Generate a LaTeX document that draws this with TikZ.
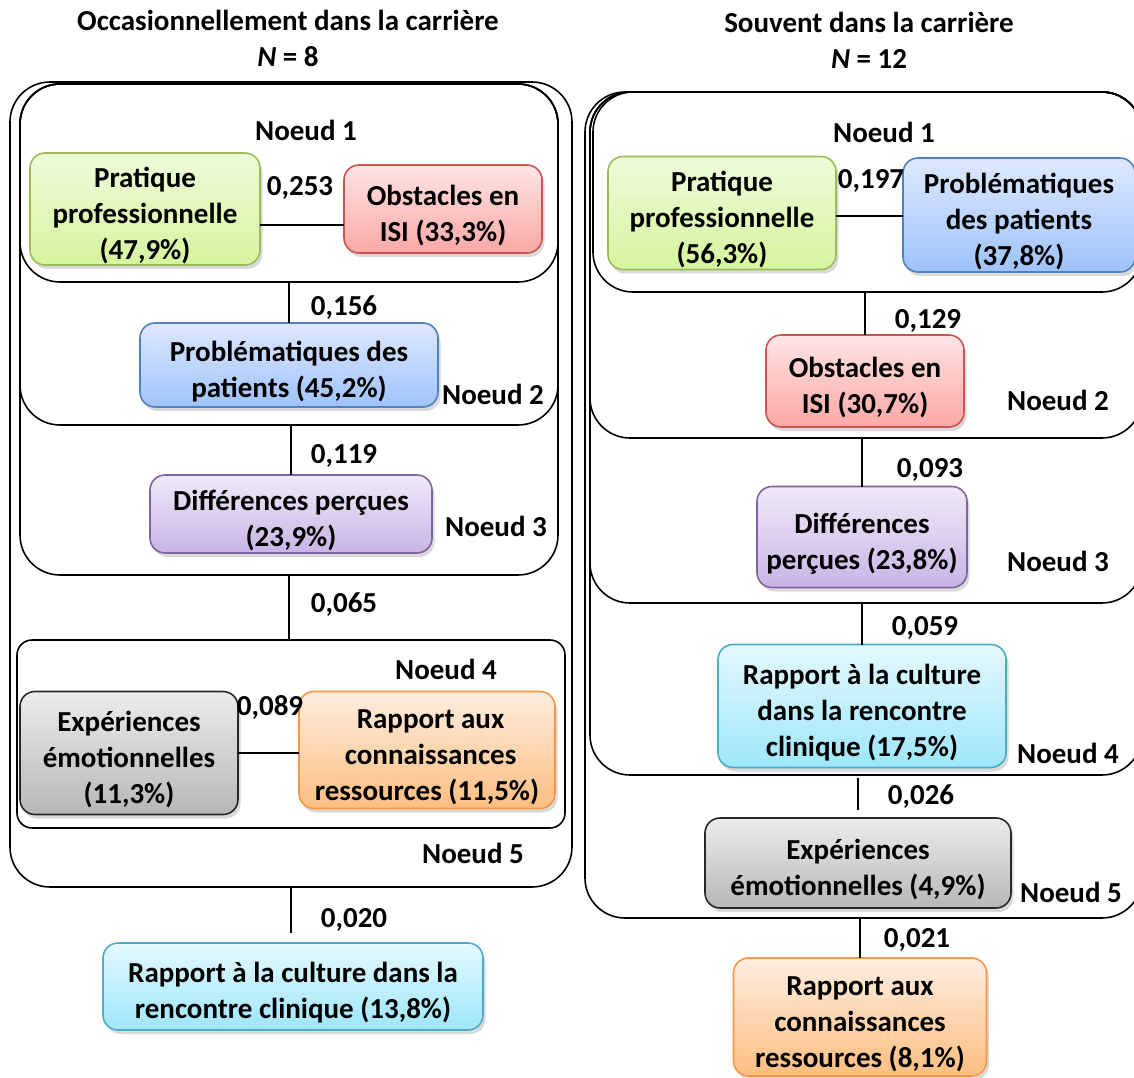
\documentclass[tikz,border=0pt]{standalone}
\usepackage{fontspec}
\setmainfont{Carlito}
\usetikzlibrary{shadows}
\definecolor{vertBord}{RGB}{155,187,89}
\definecolor{vertHaut}{RGB}{238,251,218}
\definecolor{vertBas}{RGB}{214,244,158}
\definecolor{rougeBord}{RGB}{200,85,82}
\definecolor{rougeHaut}{RGB}{255,228,228}
\definecolor{rougeBas}{RGB}{251,168,166}
\definecolor{bleuBord}{RGB}{79,129,189}
\definecolor{bleuHaut}{RGB}{222,232,255}
\definecolor{bleuBas}{RGB}{158,195,250}
\definecolor{violetBord}{RGB}{128,100,162}
\definecolor{violetHaut}{RGB}{240,233,249}
\definecolor{violetBas}{RGB}{200,180,230}
\definecolor{grisBord}{RGB}{40,40,40}
\definecolor{grisHaut}{RGB}{236,236,236}
\definecolor{grisBas}{RGB}{183,183,183}
\definecolor{orangeBord}{RGB}{247,150,70}
\definecolor{orangeHaut}{RGB}{255,238,224}
\definecolor{orangeBas}{RGB}{252,190,128}
\definecolor{cyanBord}{RGB}{75,172,198}
\definecolor{cyanHaut}{RGB}{228,249,255}
\definecolor{cyanBas}{RGB}{158,230,250}
\newlength\unitpx \setlength\unitpx{0.02cm}
\newcommand\decal{\rule{0pt}{19pt}}

\begin{document}
\begin{tikzpicture}[x=0.02cm, y=-0.02cm,
    txt/.style={font=\bfseries\fontsize{16.5}{20.5}\selectfont, align=center},
    grp/.style={draw, line width=0.9pt, rounded corners=0.8cm, inner sep=0pt, outer sep=0pt},
    boite/.style n args={3}{txt, draw=#1, line width=0.9pt, top color=#2, bottom color=#3,
        rounded corners=0.3cm, inner sep=0pt, outer sep=0pt,
        drop shadow={opacity=0.3, shadow xshift=0.05cm, shadow yshift=-0.08cm}},
    lien/.style={line width=1.4pt}]
    \useasboundingbox (0,0) rectangle (1134,1078);
    \clip (0,0) rectangle (1134,1078);

    % Titres
    \node[txt] (titreL) at (288,38) {Occasionnellement dans la carrière\\\textit{N} = 8};
    \node[txt] (titreR) at (869,40) {Souvent dans la carrière\\\textit{N} = 12};

    % Noeuds (gauche)
    \node[grp, minimum width=562\unitpx, minimum height=805\unitpx] (g5L) at (291,484.5) {};
    \node[grp, minimum width=538\unitpx, minimum height=491\unitpx] (g3L) at (289,329.5) {};
    \node[grp, minimum width=538\unitpx, minimum height=341\unitpx] (g2L) at (289,254.5) {};
    \node[grp, minimum width=538\unitpx, minimum height=198\unitpx] (g1L) at (289,183) {};
    \node[grp, rounded corners=0.3cm, minimum width=548\unitpx, minimum height=188\unitpx] (g4L) at (291,734) {};

    % Noeuds (droite)
    \node[grp, minimum width=557\unitpx, minimum height=826\unitpx] (g5R) at (863.5,505) {};
    \node[grp, minimum width=552\unitpx, minimum height=683\unitpx] (g4R) at (866,433.5) {};
    \node[grp, minimum width=552\unitpx, minimum height=511\unitpx] (g3R) at (866,347.5) {};
    \node[grp, minimum width=552\unitpx, minimum height=346\unitpx] (g2R) at (866,265) {};
    \node[grp, minimum width=549\unitpx, minimum height=200\unitpx] (g1R) at (867.5,192) {};

    % Boites (gauche)
    \node[boite={vertBord}{vertHaut}{vertBas}, minimum width=230\unitpx, minimum height=112\unitpx] (pp1) at (145,209) {\decal Pratique\\professionnelle\\(47,9\%)};
    \node[boite={rougeBord}{rougeHaut}{rougeBas}, minimum width=198\unitpx, minimum height=88\unitpx] (ob1) at (443,209) {\decal Obstacles en\\ISI (33,3\%)};
    \node[boite={bleuBord}{bleuHaut}{bleuBas}, minimum width=298\unitpx, minimum height=84\unitpx] (pb1) at (289,365) {\decal Problématiques des\\patients (45,2\%)};
    \node[boite={violetBord}{violetHaut}{violetBas}, minimum width=282\unitpx, minimum height=78\unitpx] (df1) at (291,514) {\decal Différences perçues\\(23,9\%)};
    \node[boite={grisBord}{grisHaut}{grisBas}, minimum width=218\unitpx, minimum height=123\unitpx] (ex1) at (129,753) {\decal Expériences\\émotionnelles\\(11,3\%)};
    \node[boite={orangeBord}{orangeHaut}{orangeBas}, minimum width=256\unitpx, minimum height=117\unitpx] (rc1) at (427,750) {\decal\phantom{i}Rapport aux\\\phantom{i}connaissances\\ressources (11,5\%)};
    \node[boite={cyanBord}{cyanHaut}{cyanBas}, minimum width=380\unitpx, minimum height=87\unitpx] (cu1) at (293,986.5) {\decal Rapport à la culture dans la\\rencontre clinique (13,8\%)};

    % Boites (droite)
    \node[boite={vertBord}{vertHaut}{vertBas}, minimum width=228\unitpx, minimum height=113\unitpx] (pp2) at (722,213) {\decal Pratique\\professionnelle\\(56,3\%)};
    \node[boite={bleuBord}{bleuHaut}{bleuBas}, minimum width=232\unitpx, minimum height=114\unitpx] (pb2) at (1019,215) {\decal Problématiques\\des patients\\(37,8\%)};
    \node[boite={rougeBord}{rougeHaut}{rougeBas}, minimum width=198\unitpx, minimum height=92\unitpx] (ob2) at (865,381) {\decal Obstacles en\\ISI (30,7\%)};
    \node[boite={violetBord}{violetHaut}{violetBas}, minimum width=210\unitpx, minimum height=101\unitpx] (df2) at (862,537) {\decal Différences\\perçues (23,8\%)};
    \node[boite={cyanBord}{cyanHaut}{cyanBas}, minimum width=288\unitpx, minimum height=123\unitpx] (cu2) at (862,706) {\decal Rapport à la culture\\dans la rencontre\\clinique (17,5\%)};
    \node[boite={grisBord}{grisHaut}{grisBas}, minimum width=306\unitpx, minimum height=90\unitpx] (ex2) at (858,863) {\decal Expériences\\émotionnelles (4,9\%)};
    \node[boite={orangeBord}{orangeHaut}{orangeBas}, minimum width=253\unitpx, minimum height=118\unitpx] (rc2) at (860,1017) {\decal Rapport aux\\connaissances\\ressources (8,1\%)};

    % Liens (gauche)
    \draw[lien] ([yshift=-0.32cm]pp1.east) -- ([yshift=-0.32cm]ob1.west);
    \draw[lien] (g1L.south -| pb1.north) -- (pb1.north);
    \draw[lien] (g2L.south -| df1.north) -- (df1.north);
    \draw[lien] (g3L.south) -- (g3L.south |- g4L.north);
    \draw[lien] (ex1.east) -- (ex1.east -| rc1.west);
    \draw[lien, shorten >=0.2cm] (g5L.south) -- (g5L.south |- cu1.north);

    % Liens (droite)
    \draw[lien] ([yshift=-0.06cm]pp2.east) -- ([yshift=-0.06cm]pp2.east -| pb2.west);
    \draw[lien] (g1R.south -| ob2.north) -- (ob2.north);
    \draw[lien] (g2R.south -| df2.north) -- (df2.north);
    \draw[lien] (g3R.south -| cu2.north) -- (cu2.north);
    \draw[lien, shorten <=0.06cm, shorten >=0.16cm] (g4R.south -| ex2.north) -- (ex2.north);
    \draw[lien] (g5R.south -| rc2.north) -- (rc2.north);

    % Poids (gauche)
    \node[txt] (w1L) at (300,188) {0,253};
    \node[txt] (w2L) at (344,308) {0,156};
    \node[txt] (w3L) at (344,456) {0,119};
    \node[txt] (w4L) at (344,605) {0,065};
    \node[txt] (w5L) at (270,707) {0,089};
    \node[txt] (w6L) at (354,920) {0,020};

    % Poids (droite)
    \node[txt] (w1R) at (871,181) {0,197};
    \node[txt] (w2R) at (928,321) {0,129};
    \node[txt] (w3R) at (930,470) {0,093};
    \node[txt] (w4R) at (925,628) {0,059};
    \node[txt] (w5R) at (921,797) {0,026};
    \node[txt] (w6R) at (917,940) {0,021};

    % Etiquettes des noeuds
    \node[txt] (n1L) at (306,130) {Noeud 1};
    \node[txt] (n2L) at (493,394) {Noeud 2};
    \node[txt] (n3L) at (496,526) {Noeud 3};
    \node[txt] (n4L) at (446,669) {Noeud 4};
    \node[txt] (n5L) at (473,853) {Noeud 5};
    \node[txt] (n1R) at (884,132) {Noeud 1};
    \node[txt] (n2R) at (1058,400) {Noeud 2};
    \node[txt] (n3R) at (1058,561) {Noeud 3};
    \node[txt] (n4R) at (1068,753) {Noeud 4};
    \node[txt] (n5R) at (1071,892) {Noeud 5};
\end{tikzpicture}
\end{document}
